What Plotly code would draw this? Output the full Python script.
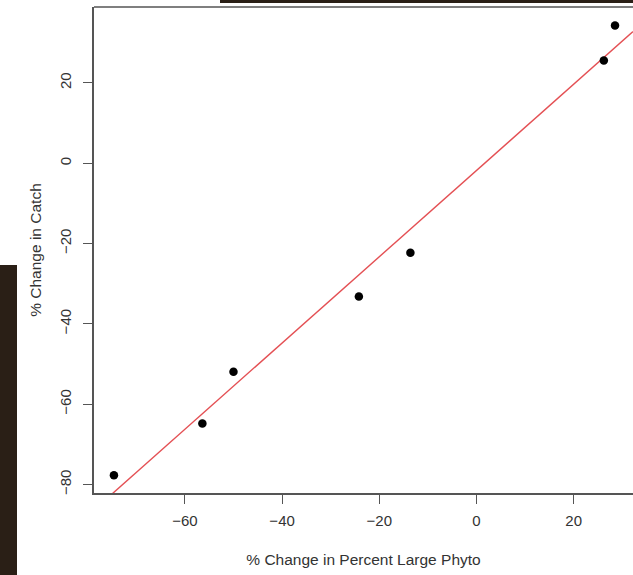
import numpy as np
import plotly.graph_objects as go

# Data
pct_change_large_phyto = [-74.6, -56.4, -50.0, -24.2, -13.6, 26.2, 28.5]
pct_change_catch = [-77.7, -64.8, -51.9, -33.2, -22.3, 25.6, 34.3]

# Fitted regression line
fit_intercept = -1.8
fit_slope = 1.074

x_ticks = [-60, -40, -20, 0, 20]
y_ticks = [-80, -60, -40, -20, 0, 20]

x_range = [-78.7, 32.2]
y_range = [-82.1, 38.9]

axis_col = "#555555"
text_col = "#333333"
font_family = "Liberation Sans, Arial, Helvetica, sans-serif"

# plot-area geometry in pixels (used only to place the background strips)
W, H = 633, 575
L, R, T, B = 94, 0, 7, 82
PW, PH = W - L - R, H - T - B


def px_x(p):
    return (p - L) / PW


def px_y(p):
    return (H - B - p) / PH


fig = go.Figure()

line_x = np.array(x_range)
fig.add_trace(go.Scatter(
    x=line_x, y=fit_intercept + fit_slope * line_x,
    mode="lines", line=dict(color="rgb(228,80,84)", width=1.4),
    showlegend=False, hoverinfo="skip",
))

fig.add_trace(go.Scatter(
    x=pct_change_large_phyto, y=pct_change_catch,
    mode="markers", marker=dict(color="black", size=8.5),
    showlegend=False,
))

fig.update_layout(
    width=W, height=H,
    margin=dict(l=L, r=R, t=T, b=B),
    paper_bgcolor="white", plot_bgcolor="white",
    font=dict(family=font_family, size=15, color=text_col),
    xaxis=dict(
        range=x_range, tickmode="array", tickvals=x_ticks,
        showgrid=False, zeroline=False,
        showline=True, linecolor=axis_col, linewidth=1.5, mirror=False,
        ticks="outside", ticklen=9, tickwidth=1.2, tickcolor=axis_col,
        tickfont=dict(size=15, color=text_col),
        ticklabelstandoff=4,
        title=dict(text="% Change in Percent Large Phyto", font=dict(size=15.5, color=text_col), standoff=26),
        automargin=False,
    ),
    yaxis=dict(
        range=y_range, tickmode="array", tickvals=y_ticks,
        showgrid=False, zeroline=False,
        showline=True, linecolor=axis_col, linewidth=1.5, mirror=False,
        ticks="outside", ticklen=9, tickwidth=1.2, tickcolor=axis_col,
        tickfont=dict(size=15, color=text_col), tickangle=-90,
        ticklabelstandoff=6,
        title=dict(text="% Change in Catch", font=dict(size=15.5, color=text_col), standoff=12),
        automargin=False,
    ),
    shapes=[
        # top border of the plot box
        dict(type="line", xref="paper", yref="paper", x0=0, x1=1.01, y0=1, y1=1,
             line=dict(color=axis_col, width=1.5)),
        # dark background strips visible in the reference crop
        dict(type="rect", xref="paper", yref="paper",
             x0=px_x(220), x1=px_x(640), y0=px_y(3), y1=px_y(-5),
             fillcolor="#2a1f16", line=dict(width=0), layer="above"),
        dict(type="rect", xref="paper", yref="paper",
             x0=px_x(-5), x1=px_x(17), y0=px_y(580), y1=px_y(265),
             fillcolor="#2a1f16", line=dict(width=0), layer="above"),
    ],
)

fig.write_html("out.html")
